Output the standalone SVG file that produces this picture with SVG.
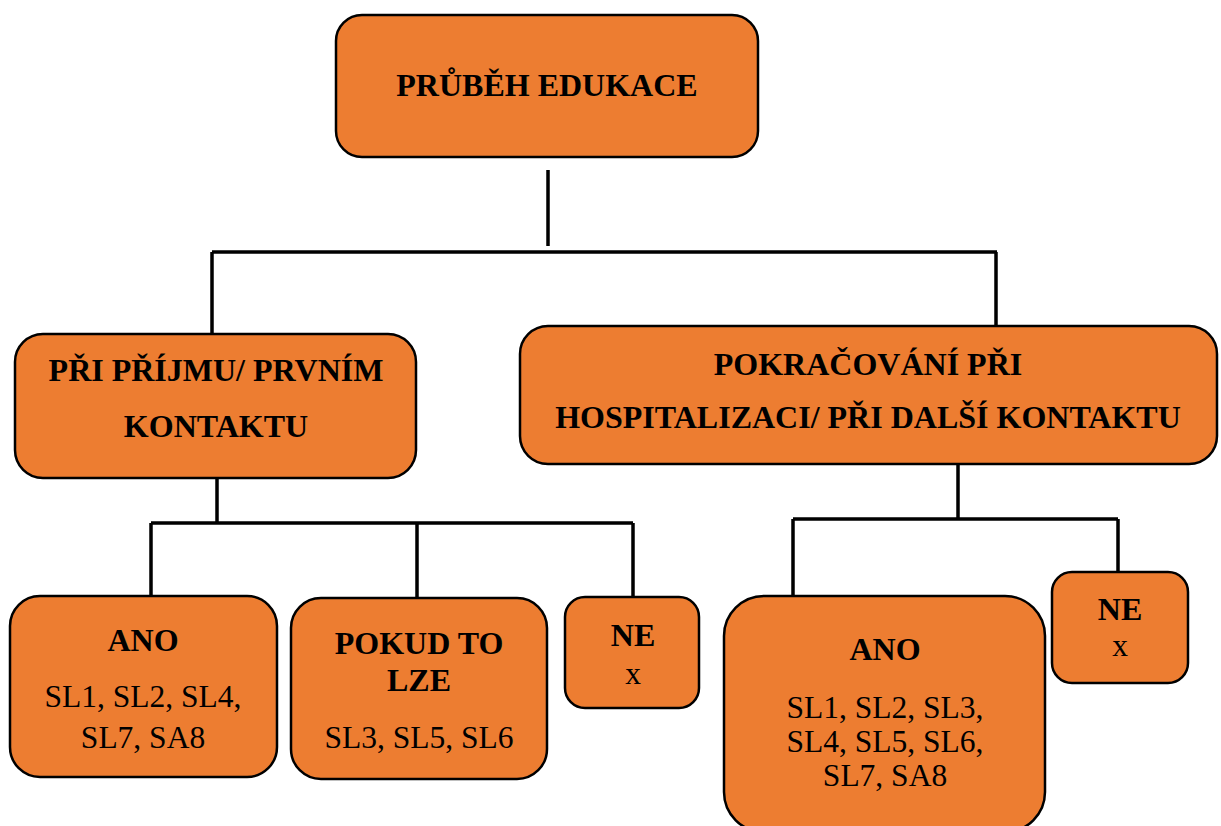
<svg xmlns="http://www.w3.org/2000/svg" width="1221" height="826" viewBox="0 0 1221 826">
<style>
.box{fill:#ED7D31;stroke:#000;stroke-width:2.5}
.b{font-family:"Liberation Serif","Times New Roman",serif;font-weight:bold;font-size:32px;fill:#000;text-anchor:middle}
.r{font-family:"Liberation Serif","Times New Roman",serif;font-size:31.5px;fill:#000;text-anchor:middle}
.c{fill:none;stroke:#000;stroke-width:3.5}
</style>
<rect width="1221" height="826" fill="#fff"/>
<g id="connectors">
<path class="c" d="M548 170V246M212 252H997M212 252V334M996 252V326"/>
<path class="c" d="M217 478V523M151 523H633M151 523V597M417 523V599M633 523V597"/>
<path class="c" d="M958 464V519M793 519H1118M793 519V596M1118 519V573"/>
</g>
<g id="n-root">
<rect class="box" x="336" y="15" width="422" height="142" rx="26"/>
<text class="b" x="547" y="96">PRŮBĚH EDUKACE</text>
</g>
<g id="n-prijem">
<rect class="box" x="15" y="334" width="401" height="144" rx="28"/>
<text class="b" x="216" y="381">PŘI PŘÍJMU/ PRVNÍM</text>
<text class="b" x="216" y="437">KONTAKTU</text>
</g>
<g id="n-pokracovani">
<rect class="box" x="520" y="326" width="697" height="138" rx="28"/>
<text class="b" x="868" y="375">POKRAČOVÁNÍ PŘI</text>
<text class="b" x="868" y="428">HOSPITALIZACI/ PŘI DALŠÍ KONTAKTU</text>
</g>
<g id="n-ano1">
<rect class="box" x="10" y="596" width="267" height="181" rx="30"/>
<text class="b" x="143" y="651">ANO</text>
<text class="r" x="143" y="707">SL1, SL2, SL4,</text>
<text class="r" x="143" y="748">SL7, SA8</text>
</g>
<g id="n-pokud">
<rect class="box" x="291" y="598" width="256" height="181" rx="30"/>
<text class="b" x="419" y="654">POKUD TO</text>
<text class="b" x="419" y="691">LZE</text>
<text class="r" x="419" y="748">SL3, SL5, SL6</text>
</g>
<g id="n-ne1">
<rect class="box" x="565" y="597" width="134" height="111" rx="20"/>
<text class="b" x="633" y="646">NE</text>
<text class="r" x="633" y="684">x</text>
</g>
<g id="n-ano2">
<rect class="box" x="724" y="596" width="321" height="236" rx="40"/>
<text class="b" x="885" y="660">ANO</text>
<text class="r" x="885" y="718">SL1, SL2, SL3,</text>
<text class="r" x="885" y="752">SL4, SL5, SL6,</text>
<text class="r" x="885" y="786">SL7, SA8</text>
</g>
<g id="n-ne2">
<rect class="box" x="1052" y="572" width="136" height="111" rx="20"/>
<text class="b" x="1120" y="620">NE</text>
<text class="r" x="1120" y="656">x</text>
</g>
</svg>
